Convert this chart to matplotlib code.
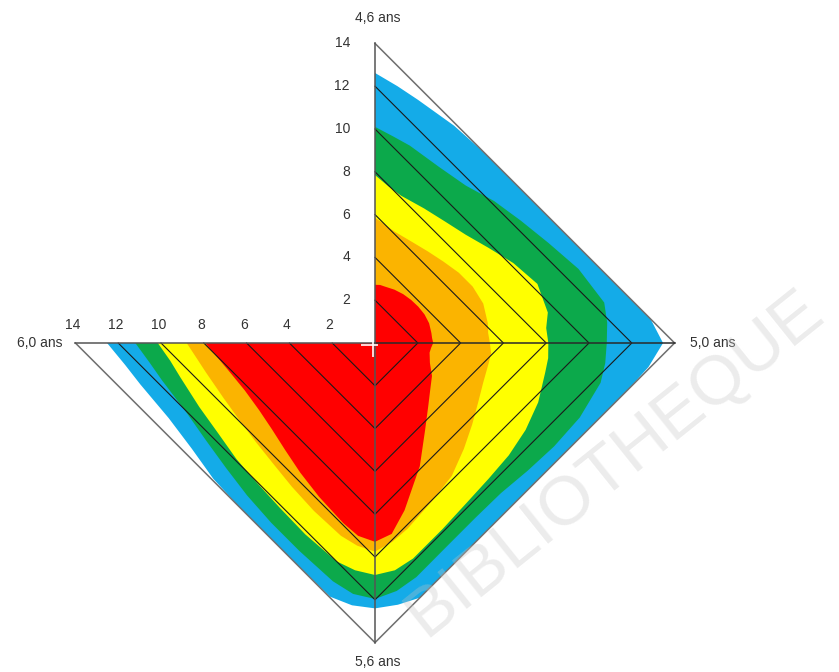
import numpy as np
import matplotlib
matplotlib.use("Agg")
import matplotlib.pyplot as plt

plt.rcParams["font.family"] = ["Liberation Sans", "DejaVu Sans"]

# directions (deg) at which each band edge was read, clockwise from "4,6 ans" to "6,0 ans"
angles = [90, 85, 80, 70, 60, 50, 40, 30, 20, 10, 5, 0, -5, -10, -20, -30, -40, -50,
          -60, -70, -80, -85, -90, -95, -100, -110, -120, -130, -140, -150, -160,
          -170, -175, -180]

# outer edge of each coloured band, in grid units (diamond level) along each direction
blue = [12.62, 13.05, 13.37, 13.85, 14.0, 14.0, 14.0, 14.0, 14.0, 14.0, 14.0, 13.46,
        13.9, 14.0, 14.0, 14.0, 14.0, 14.0, 14.0, 14.0, 14.0, 13.3, 12.4, 13.33, 13.95,
        14.0, 14.0, 14.0, 13.9, 13.5, 13.15, 12.9, 12.7, 12.52]
green = [10.1, 10.5, 10.85, 11.22, 11.6, 12.2, 12.53, 12.78, 12.97, 12.6, 11.8, 10.83,
         11.7, 12.4, 13.05, 13.2, 13.1, 12.9, 12.86, 12.86, 12.87, 12.6, 11.96, 12.75,
         13.1, 13.25, 13.25, 13.1, 12.8, 12.45, 12.05, 11.7, 11.45, 11.2]
yellow = [7.85, 7.95, 8.1, 8.58, 8.95, 9.3, 9.75, 10.2, 10.35, 9.5, 8.7, 8.1,
          8.8, 9.35, 10.4, 11.1, 11.5, 11.65, 11.75, 11.85, 11.85, 11.55, 10.84, 11.55,
          12.0, 12.2, 12.15, 12.05, 11.9, 11.55, 11.2, 10.7, 10.4, 10.15]
orange = [5.85, 6.0, 6.12, 6.45, 6.75, 7.0, 7.2, 7.2, 6.9, 6.2, 5.75, 5.37,
          5.9, 6.25, 6.9, 7.6, 8.35, 9.1, 9.8, 10.05, 10.2, 10.1, 9.75, 10.3,
          10.6, 10.7, 10.6, 10.4, 10.2, 9.95, 9.65, 9.28, 9.05, 8.8]
red = [2.72, 2.95, 3.1, 3.4, 3.6, 3.7, 3.72, 3.65, 3.45, 3.1, 2.9, 2.72,
       2.85, 3.0, 3.5, 4.2, 4.75, 5.45, 6.4, 7.85, 9.2, 9.7, 9.29, 9.8,
       9.9, 9.8, 9.55, 9.2, 8.85, 8.55, 8.3, 8.12, 8.03, 7.94]

ticks = [2, 4, 6, 8, 10, 12, 14]
axis_names = ["4,6 ans", "5,0 ans", "5,6 ans", "6,0 ans"]

bands = [(blue, "#14ABE8"), (green, "#0CA94B"), (yellow, "#FFFF00"),
         (orange, "#FBB400"), (red, "#FF0000")]


def to_xy(levels):
    a = np.radians(angles)
    c, s = np.cos(a), np.sin(a)
    n = np.abs(c) + np.abs(s)
    lv = np.asarray(levels)
    return lv * c / n, lv * s / n


W, H = 839, 672
cx, cy, k = 375, 343, 21.4          # centre pixel and pixels per unit
fig = plt.figure(figsize=(W / 100, H / 100), dpi=100)
ax = fig.add_axes([0, 0, 1, 1])
ax.set_xlim(-cx / k, (W - cx) / k)
ax.set_ylim(-(H - cy) / k, cy / k)
ax.axis("off")

for levels, col in bands:
    x, y = to_xy(levels)
    ax.fill(np.append(x, 0), np.append(y, 0), color=col, lw=0, zorder=1)

# diamond grid in the three used quadrants
for t in ticks:
    col, lw = ("#6e6e6e", 1.1) if t == ticks[-1] else ("#1a1a1a", 0.8)
    ax.plot([0, t, 0, -t], [t, 0, -t, 0], color=col, lw=lw, zorder=3)

m = ticks[-1]
ax.plot([0, 0], [0, m], color="#555555", lw=1.1, zorder=3)
ax.plot([0, 0], [0, -m], color="#555555", lw=1.1, zorder=3)
ax.plot([0, m], [0, 0], color="#2a2a2a", lw=1.1, zorder=3)
ax.plot([-m, 0], [0, 0], color="#555555", lw=1.1, zorder=3)

# small white cross at the centre
ax.plot([-0.6, 0.1], [-0.08, -0.08], color="white", lw=1.4, alpha=0.85, zorder=4)
ax.plot([-0.1, -0.1], [0.15, -0.6], color="white", lw=1.4, alpha=0.85, zorder=4)

tc = "#333333"
for t in ticks:
    ax.text(-1.17, t, str(t), ha="right", va="center", fontsize=10, color=tc)
    ax.text(-t - 0.12, 0.84, str(t), ha="center", va="center", fontsize=10, color=tc)

ax.text(0.14, 15.2, axis_names[0], ha="center", va="center", fontsize=10, color=tc)
ax.text(14.72, 0.0, axis_names[1], ha="left", va="center", fontsize=10, color=tc)
ax.text(0.14, -14.9, axis_names[2], ha="center", va="center", fontsize=10, color=tc)
ax.text(-14.6, 0.0, axis_names[3], ha="right", va="center", fontsize=10, color=tc)

# faint watermark
ax.text(11.2, -5.6, "BIBLIOTHEQUE", ha="center", va="center", rotation=38.7,
        rotation_mode="anchor", fontsize=50, color="#c4c4c4", alpha=0.32, zorder=6)

fig.savefig("out.png", dpi=100)
